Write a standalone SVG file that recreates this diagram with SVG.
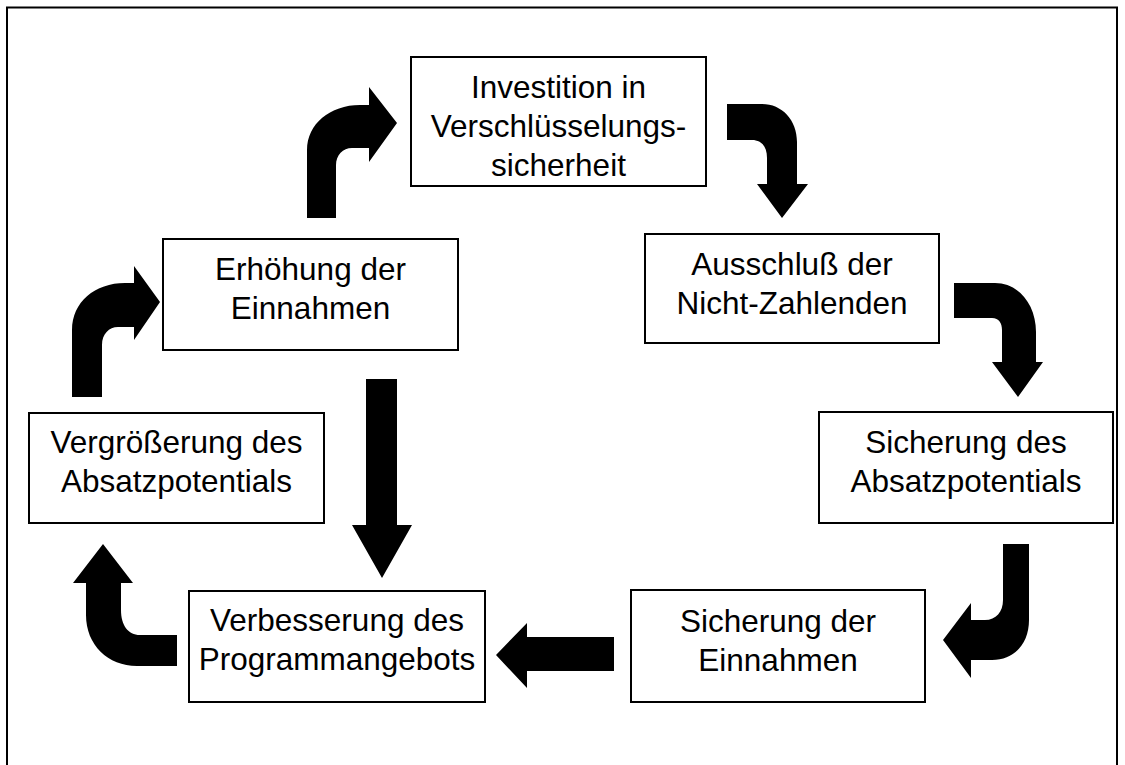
<svg xmlns="http://www.w3.org/2000/svg" width="1125" height="765" viewBox="0 0 1125 765">
<style>
.box{fill:#fff;stroke:#000;stroke-width:2}
.t{font-family:"Liberation Sans",Arial,sans-serif;font-size:31.5px;fill:#000;text-anchor:middle}
.arr{fill:#000;stroke:none}
</style>
<rect x="0" y="0" width="1125" height="765" fill="#fff"/>
<rect x="7" y="7.5" width="1110" height="800" fill="none" stroke="#000" stroke-width="2"/>
<g id="n1"><rect class="box" x="411" y="57" width="295" height="129"/>
<text class="t" x="558.5" y="98">Investition in</text>
<text class="t" x="558.5" y="137">Verschlüsselungs-</text>
<text class="t" x="558.5" y="176">sicherheit</text></g>
<g id="n2"><rect class="box" x="163" y="239" width="295" height="111"/>
<text class="t" x="310.5" y="280">Erhöhung der</text>
<text class="t" x="310.5" y="319">Einnahmen</text></g>
<g id="n3"><rect class="box" x="645" y="234" width="294" height="109"/>
<text class="t" x="792" y="275">Ausschluß der</text>
<text class="t" x="792" y="314">Nicht-Zahlenden</text></g>
<g id="n4"><rect class="box" x="29" y="413" width="295" height="110"/>
<text class="t" x="176.5" y="453">Vergrößerung des</text>
<text class="t" x="176.5" y="492">Absatzpotentials</text></g>
<g id="n5"><rect class="box" x="819" y="412" width="294" height="111"/>
<text class="t" x="966" y="453">Sicherung des</text>
<text class="t" x="966" y="492">Absatzpotentials</text></g>
<g id="n6"><rect class="box" x="189" y="591" width="296" height="111"/>
<text class="t" x="337" y="631">Verbesserung des</text>
<text class="t" x="337" y="670">Programmangebots</text></g>
<g id="n7"><rect class="box" x="631" y="590" width="294" height="112"/>
<text class="t" x="778" y="632">Sicherung der</text>
<text class="t" x="778" y="671">Einnahmen</text></g>
<g id="connectors">
<path class="arr" d="M307,218 L307,150 C307,124 330,105 360,105 L369,105 L369,87 L397,123 L369,162 L369,148 L352,148 C343,148 336,155 336,165 L336,218 Z"/>
<path class="arr" d="M727,104 L762,104 C782,104 797,120 797,142 L797,184 L808,184 L782,218 L757,184 L767,184 L767,158 C767,147 762,140 752,140 L727,140 Z"/>
<path class="arr" d="M954,283 L995,283 C1019,283 1036,305 1036,332 L1036,362 L1043,362 L1018,397 L992,362 L1002,362 L1002,330 C1002,323 999,318 992,318 L954,318 Z"/>
<path class="arr" d="M1003,544 L1029,544 L1029,620 C1029,643 1015,660 992,660 L971,660 L971,678 L943,640 L971,603 L971,620 L985,620 C996,620 1003,612 1003,600 Z"/>
<path class="arr" d="M72,397 L72,330 C72,302 95,283 125,283 L134,283 L134,266 L160,302 L134,340 L134,327 L118,327 C109,327 102,334 102,345 L102,397 Z"/>
<path class="arr" d="M177,635 L177,666 L137,666 C108,666 86,645 86,615 L86,583 L73,583 L103,544 L133,583 L121,583 L121,610 C121,625 128,635 140,635 Z"/>
<path class="arr" d="M614,637 L527,637 L527,623 L496,655 L527,688 L527,671 L614,671 Z"/>
<path class="arr" d="M366,379 L397,379 L397,525 L412,525 L382,578 L352,525 L366,525 Z"/>
</g>
</svg>
